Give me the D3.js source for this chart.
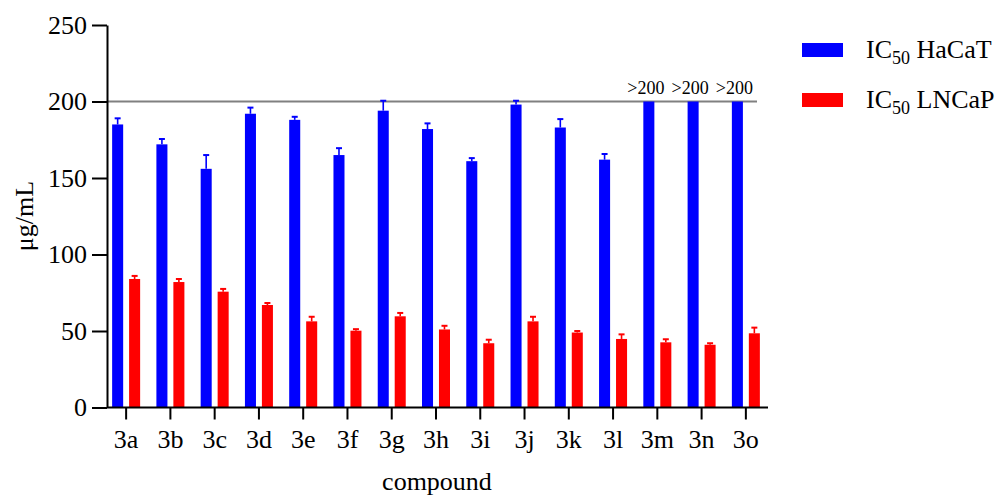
<!DOCTYPE html>
<html>
<head>
<meta charset="utf-8">
<script src="https://cdn.jsdelivr.net/npm/d3@7"></script>
<style>
  body { margin: 0; background: #fff; }
  svg text { font-family: 'Liberation Serif', 'Times New Roman', Times, serif; fill: #000; }
</style>
</head>
<body>
<svg id="chart" width="998" height="495"></svg>
<script>
// data
const compounds = ['3a', '3b', '3c', '3d', '3e', '3f', '3g', '3h', '3i', '3j', '3k', '3l', '3m', '3n', '3o'];
const hacat = [185, 172, 156, 192, 188, 165, 194, 182, 161, 198, 183, 162, 200, 200, 200];
const hacatErr = [4, 3.5, 9, 4, 2, 4.5, 6.5, 3.7, 2, 2.5, 5.5, 3.7, 0, 0, 0];
const lncap = [84, 82, 75.7, 67, 56.3, 50.2, 59.6, 51, 42, 56.3, 49, 44.8, 42.6, 41, 48.5];
const lncapErr = [2, 2, 1.8, 1.3, 3, 1, 2.2, 2.4, 2.3, 3, 1, 3, 2, 1, 3.7];
const overLimit = ['3m', '3n', '3o'];
const yTicks = [0, 50, 100, 150, 200, 250];
const series = [
  { key: 'HaCaT', values: hacat, errors: hacatErr, color: '#0000ff' },
  { key: 'LNCaP', values: lncap, errors: lncapErr, color: '#ff0000' }
];

const serif = "'Liberation Serif', 'Times New Roman', Times, serif";
const svg = d3.select('#chart');

const x = d3.scaleBand()
  .domain(compounds)
  .range([104, 768])
  .padding(0);

const xSub = d3.scaleBand()
  .domain(series.map(s => s.key))
  .range([x.bandwidth() / 2 - 14, x.bandwidth() / 2 + 14])
  .paddingInner(0.35);

const y = d3.scaleLinear()
  .domain([0, 250])
  .range([407.5, 25]);

// reference line at 200
svg.append('line')
  .attr('x1', 107).attr('x2', 757)
  .attr('y1', y(200)).attr('y2', y(200))
  .attr('stroke', '#808080')
  .attr('stroke-width', 2);

// bars + error bars
series.forEach(s => {
  const g = svg.append('g');
  const rows = compounds.map((c, i) => ({ c, v: s.values[i], e: s.errors[i] }));

  g.selectAll('rect')
    .data(rows)
    .enter()
    .append('rect')
    .attr('x', d => x(d.c) + xSub(s.key))
    .attr('y', d => y(d.v))
    .attr('width', xSub.bandwidth())
    .attr('height', d => y(0) - y(d.v))
    .attr('fill', s.color);

  const eb = rows.filter(d => d.e > 0);
  const cx = d => x(d.c) + xSub(s.key) + xSub.bandwidth() / 2;
  g.selectAll('.err')
    .data(eb)
    .enter()
    .append('line')
    .attr('class', 'err')
    .attr('x1', cx).attr('x2', cx)
    .attr('y1', d => y(d.v)).attr('y2', d => y(d.v + d.e))
    .attr('stroke', s.color)
    .attr('stroke-width', 1.6);
  g.selectAll('.cap')
    .data(eb)
    .enter()
    .append('line')
    .attr('class', 'cap')
    .attr('x1', d => cx(d) - 3).attr('x2', d => cx(d) + 3)
    .attr('y1', d => y(d.v + d.e)).attr('y2', d => y(d.v + d.e))
    .attr('stroke', s.color)
    .attr('stroke-width', 2);
});

// >200 labels
svg.selectAll('.over')
  .data(overLimit)
  .enter()
  .append('text')
  .attr('class', 'over')
  .attr('x', d => x(d) + xSub('HaCaT') + xSub.bandwidth() / 2 - 3)
  .attr('y', y(200) - 8)
  .attr('text-anchor', 'middle')
  .attr('font-family', serif)
  .attr('font-size', 18)
  .text('>200');

// axes
const yAxis = svg.append('g')
  .attr('transform', 'translate(107,0)')
  .call(d3.axisLeft(y).tickValues(yTicks).tickSize(15).tickPadding(5).tickSizeOuter(0));
const xAxis = svg.append('g')
  .attr('transform', 'translate(0,' + y(0) + ')')
  .call(d3.axisBottom(x).tickSize(12).tickPadding(10).tickSizeOuter(0));

[yAxis, xAxis].forEach(a => {
  a.attr('font-family', serif).attr('font-size', 26);
  a.select('.domain').attr('stroke', '#000').attr('stroke-width', 2);
  a.selectAll('.tick line').attr('stroke', '#000').attr('stroke-width', 2);
  a.selectAll('.tick text').attr('fill', '#000');
});
// the x axis starts at the y axis
xAxis.select('.domain').attr('d', 'M107,0H768');

// axis titles
svg.append('text')
  .attr('transform', 'translate(33,216) rotate(-90)')
  .attr('text-anchor', 'middle')
  .attr('font-family', serif)
  .attr('font-size', 26)
  .text('μg/mL');

svg.append('text')
  .attr('x', 437)
  .attr('y', 490)
  .attr('text-anchor', 'middle')
  .attr('font-family', serif)
  .attr('font-size', 26)
  .text('compound');

// legend
const legend = svg.append('g').attr('font-family', serif);
series.forEach((s, i) => {
  const ly = 43 + i * 50;
  legend.append('rect')
    .attr('x', 802).attr('y', ly)
    .attr('width', 41).attr('height', 14)
    .attr('fill', s.color);
  const t = legend.append('text')
    .attr('x', 866).attr('y', ly + 15)
    .attr('font-size', 26);
  t.append('tspan').text('IC');
  t.append('tspan').attr('dy', 6).attr('font-size', 18).text('50');
  t.append('tspan').attr('dy', -6).text(' ' + s.key);
});
</script>
</body>
</html>
